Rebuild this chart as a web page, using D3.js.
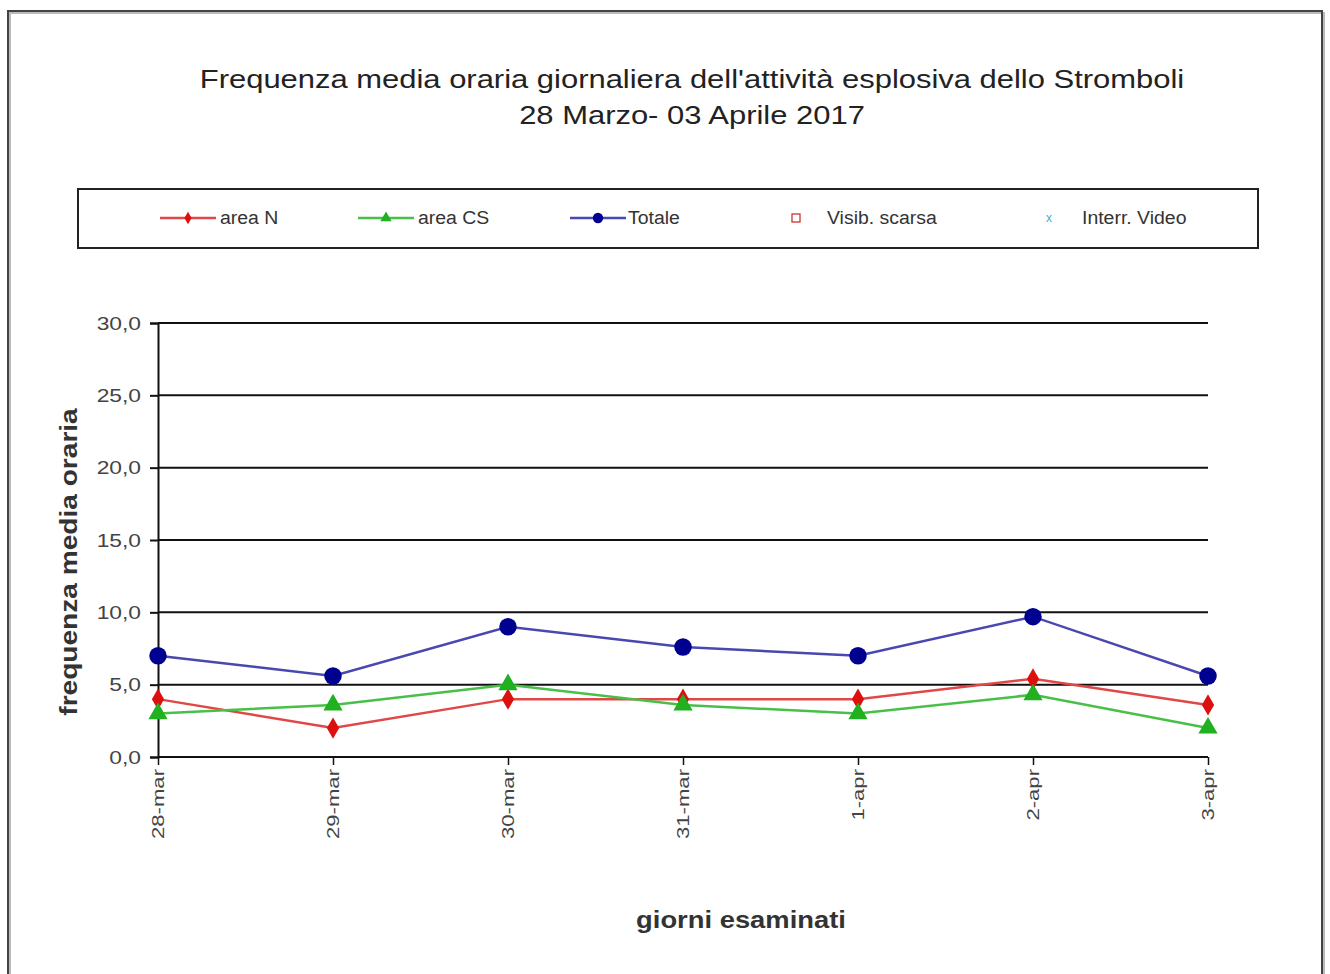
<!DOCTYPE html>
<html>
<head>
<meta charset="utf-8">
<script src="https://cdn.jsdelivr.net/npm/d3@7"></script>
<style>
  body { margin: 0; background: #fff; }
  svg { font-family: "Liberation Sans", Arial, sans-serif; }
</style>
</head>
<body>
<svg width="1330" height="974"></svg>
<script>
// giorni esaminati
var days = ["28-mar", "29-mar", "30-mar", "31-mar", "1-apr", "2-apr", "3-apr"];
var areaN = [4.0, 2.0, 4.0, 4.0, 4.0, 5.4, 3.6];
var areaCS = [3.0, 3.6, 5.0, 3.6, 3.0, 4.3, 2.0];
var totale = [7.0, 5.6, 9.0, 7.6, 7.0, 9.7, 5.6];
var yTicks = [0, 5, 10, 15, 20, 25, 30];
var legendLabels = ["area N", "area CS", "Totale", "Visib. scarsa", "Interr. Video"];

var svg = d3.select("svg");

// the original text looks a bit stretched, widen it along its baseline
function stretch(sel, k) {
    sel.each(function() {
        var len = this.getComputedTextLength();
        d3.select(this).attr("textLength", len * k).attr("lengthAdjust", "spacingAndGlyphs");
    });
}

// outer frame
svg.append("rect").attr("x", 10).attr("y", 13).attr("width", 1314).attr("height", 970)
    .attr("fill", "none").attr("stroke", "#bbb").attr("stroke-width", 2);
svg.append("rect").attr("x", 8).attr("y", 11).attr("width", 1314).attr("height", 970)
    .attr("fill", "none").attr("stroke", "#444").attr("stroke-width", 2);

// title
var title = svg.append("text").attr("text-anchor", "middle").attr("fill", "#222")
    .style("font-size", "26px");
title.append("tspan").attr("x", 692).attr("y", 88)
    .text("Frequenza media oraria giornaliera dell'attività esplosiva dello Stromboli");
title.append("tspan").attr("x", 692).attr("y", 124).text("28 Marzo- 03 Aprile 2017");
stretch(title.selectAll("tspan"), 1.19);

var x = d3.scalePoint().domain(days).range([158, 1208]);
var y = d3.scaleLinear().domain([0, 30]).range([757, 323]);

var g = svg.append("g");

// gridlines
g.append("g").selectAll("line").data(yTicks.slice(1)).enter().append("line")
    .attr("x1", 158).attr("x2", 1208)
    .attr("y1", function(d) { return y(d); }).attr("y2", function(d) { return y(d); })
    .attr("stroke", "#111").attr("stroke-width", 2);

// y axis
var yAxis = g.append("g").attr("transform", "translate(158,0)")
    .call(d3.axisLeft(y).tickValues(yTicks).tickSize(8).tickPadding(9)
        .tickFormat(function(d) { return d3.format(".1f")(d).replace(".", ","); }));
yAxis.select(".domain").attr("stroke", "#111").attr("stroke-width", 2);
yAxis.selectAll(".tick line").attr("stroke", "#111").attr("stroke-width", 2);
yAxis.selectAll("text").attr("fill", "#444").style("font-size", "19px")
    .style("font-family", "Liberation Sans, Arial, sans-serif");
stretch(yAxis.selectAll("text"), 1.2);

// x axis
var xAxis = g.append("g").attr("transform", "translate(0,757)")
    .call(d3.axisBottom(x).tickSize(8).tickPadding(6));
xAxis.select(".domain").attr("stroke", "#111").attr("stroke-width", 2)
    .attr("d", "M158,0H1208");
xAxis.selectAll(".tick line").attr("stroke", "#111").attr("stroke-width", 1.5);
xAxis.selectAll("text")
    .attr("transform", "rotate(-90)")
    .attr("text-anchor", "end")
    .attr("x", -12).attr("y", 0).attr("dy", "0.35em")
    .attr("fill", "#444").style("font-size", "17px")
    .style("font-family", "Liberation Sans, Arial, sans-serif");
stretch(xAxis.selectAll("text"), 1.3);

// axis titles
var xTitle = svg.append("text").attr("x", 741).attr("y", 928).attr("text-anchor", "middle")
    .attr("fill", "#333").style("font-size", "24px").style("font-weight", "bold")
    .text("giorni esaminati");
stretch(xTitle, 1.14);
var yTitle = svg.append("text").attr("transform", "translate(77,562) rotate(-90)").attr("text-anchor", "middle")
    .attr("fill", "#333").style("font-size", "24px").style("font-weight", "bold")
    .text("frequenza  media oraria");
stretch(yTitle, 1.17);

var series = [
    {name: "area N", values: areaN, line: "#e04848", fill: "#dd1010", symbol: d3.symbolDiamond, size: 130},
    {name: "area CS", values: areaCS, line: "#48c048", fill: "#20b020", symbol: d3.symbolTriangle, size: 160},
    {name: "Totale", values: totale, line: "#4848b0", fill: "#000090", symbol: d3.symbolCircle, size: 240}
];

var line = d3.line()
    .x(function(d, i) { return x(days[i]); })
    .y(function(d) { return y(d); });

series.forEach(function(s) {
    g.append("path").datum(s.values)
        .attr("d", line).attr("fill", "none")
        .attr("stroke", s.line).attr("stroke-width", 2.5);
    g.append("g").selectAll("path").data(s.values).enter().append("path")
        .attr("d", d3.symbol().type(s.symbol).size(s.size))
        .attr("transform", function(d, i) { return "translate(" + x(days[i]) + "," + y(d) + ")"; })
        .attr("fill", s.fill);
});

// legend
var legend = svg.append("g");
legend.append("rect").attr("x", 78).attr("y", 189).attr("width", 1180).attr("height", 59)
    .attr("fill", "#fff").attr("stroke", "#222").attr("stroke-width", 2);

var legendX = [160, 358, 570, 780, 1035];
var ly = 218;
series.forEach(function(s, i) {
    legend.append("line").attr("x1", legendX[i]).attr("x2", legendX[i] + 56)
        .attr("y1", ly).attr("y2", ly).attr("stroke", s.line).attr("stroke-width", 2.5);
    legend.append("path").attr("d", d3.symbol().type(s.symbol).size(s.size * 0.35))
        .attr("transform", "translate(" + (legendX[i] + 28) + "," + ly + ")")
        .attr("fill", s.fill);
});
legend.append("rect").attr("x", 792).attr("y", 214).attr("width", 8).attr("height", 8)
    .attr("fill", "none").attr("stroke", "#cc3333").attr("stroke-width", 1.3);
legend.append("text").attr("x", 1049).attr("y", ly).attr("text-anchor", "middle")
    .attr("dy", "0.35em").attr("fill", "#44aacc").style("font-size", "12px").text("x");

var textX = [220, 418, 628, 827, 1082];
var labs = legend.selectAll("text.lab").data(legendLabels).enter().append("text")
    .attr("class", "lab")
    .attr("x", function(d, i) { return textX[i]; })
    .attr("y", ly).attr("dy", "0.35em")
    .attr("fill", "#333").style("font-size", "18px")
    .text(function(d) { return d; });
stretch(labs, 1.08);
</script>
</body>
</html>
